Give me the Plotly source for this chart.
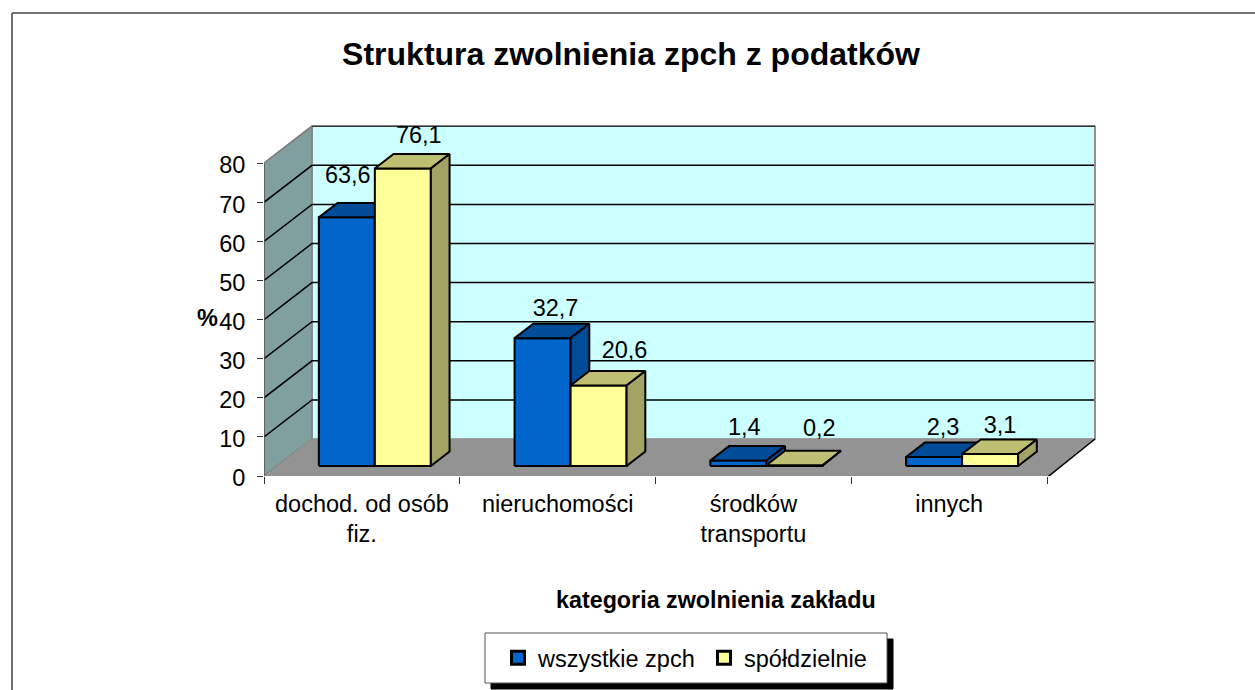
import plotly.graph_objects as go

categories = ["dochod. od osób<br>fiz.", "nieruchomości", "środków<br>transportu", "innych"]
wszystkie = [63.6, 32.7, 1.4, 2.3]
spoldzielnie = [76.1, 20.6, 0.2, 3.1]
label_wszystkie = ["63,6", "32,7", "1,4", "2,3"]
label_spoldzielnie = ["76,1", "20,6", "0,2", "3,1"]
y_ticks = [0, 10, 20, 30, 40, 50, 60, 70, 80]

# page geometry
W, H = 1255, 690
L, R, T, B = 264, 1102, 118, 476
PX_X = 195.75          # px per category
PX_Y = 3.91            # px per percent
DEPTH_X = 48 / PX_X    # projection of full depth, in axis units
DEPTH_Y = 37 / PX_Y
DROP = 1.5 / PX_Y      # front floor edge sits slightly below the zero tick
FONT = "Liberation Sans, Arial, sans-serif"
TXT = 23.5


def proj(x, y, z):
    return x + z * DEPTH_X, y + z * DEPTH_Y


def poly(points):
    xs, ys = [], []
    for x, y, z in points:
        a, b = proj(x, y, z)
        xs.append(a)
        ys.append(b)
    xs.append(xs[0])
    ys.append(ys[0])
    return xs, ys


def area(points, fill, line, width=1.0, name=""):
    xs, ys = poly(points)
    return go.Scatter(x=xs, y=ys, mode="lines", fill="toself", fillcolor=fill,
                      line=dict(color=line, width=width), showlegend=False,
                      hoverinfo="skip", cliponaxis=False, name=name)


def edge(points, color, width):
    xs, ys = [], []
    for p in points:
        a, b = proj(*p)
        xs.append(a)
        ys.append(b)
    return go.Scatter(x=xs, y=ys, mode="lines", line=dict(color=color, width=width),
                      showlegend=False, hoverinfo="skip", cliponaxis=False)


fig = go.Figure()
N = len(categories)
TOP = y_ticks[-1]

# walls and floor
fig.add_trace(area([(0, 0, 1), (N, 0, 1), (N, TOP, 1), (0, TOP, 1)], "#CCFFFF", "#999999", 1.5))
fig.add_trace(area([(0, 0, 0), (0, 0, 1), (0, TOP, 1), (0, TOP, 0)], "#80A0A0", "#808080", 1.5))
fig.add_trace(area([(0, -DROP, 0), (N, -DROP, 0), (N, 0, 1), (0, 0, 1)], "#939393", "#939393", 1))

# gridlines
for v in y_ticks[1:-1]:
    fig.add_trace(edge([(0, v, 0), (0, v, 1), (N, v, 1)], "#000000", 1.5))
fig.add_trace(edge([(N, 0, 1), (N, TOP, 1)], "#909090", 2))
fig.add_trace(edge([(0, TOP, 0), (0, TOP, 1)], "#808080", 1.5))
fig.add_trace(edge([(0, TOP, 1), (N, TOP, 1)], "#333333", 1.5))
fig.add_trace(edge([(0, -DROP, 0), (0, TOP, 0)], "#555555", 1.5))
fig.add_trace(edge([(N, -DROP, 0), (N, 0, 1)], "#000000", 1.5))
fig.add_trace(edge([(0, -DROP, 0), (N, -DROP, 0)], "#000000", 2))

# bars
BAR = 56 / PX_X
Z0, Z1 = 0.27, 0.66


def boxes(values, offset, front, top, side, name):
    for face, color in (("front", front), ("top", top), ("side", side)):
        xs, ys = [], []
        for i, v in enumerate(values):
            a = i + 0.5 + offset * BAR
            b = a + BAR
            if face == "front":
                pts = [(a, 0, Z0), (b, 0, Z0), (b, v, Z0), (a, v, Z0)]
            elif face == "top":
                pts = [(a, v, Z0), (b, v, Z0), (b, v, Z1), (a, v, Z1)]
            else:
                pts = [(b, 0, Z0), (b, 0, Z1), (b, v, Z1), (b, v, Z0)]
            px_, py_ = poly(pts)
            xs += px_ + [None]
            ys += py_ + [None]
        fig.add_trace(go.Scatter(x=xs, y=ys, mode="lines", fill="toself", fillcolor=color,
                                 line=dict(color="#000000", width=2), showlegend=False,
                                 hoverinfo="skip", cliponaxis=False, name=name))


boxes(wszystkie, -1, "#0066CC", "#004C99", "#004C99", "wszystkie zpch")
boxes(spoldzielnie, 0, "#FFFF99", "#BFBF73", "#A3A366", "spółdzielnie")

# value labels: nudges from the bar's front-top centre, in px
nudge_w = [(1, 40), (13, 28), (6, 31), (9, 28)]
nudge_s = [(16, 31), (26, 33), (25, 35), (10, 27)]


def value_labels(values, labels, offset, nudges):
    xs, ys = [], []
    for i, v in enumerate(values):
        a, b = proj(i + 0.5 + (offset + 0.5) * BAR, v, Z0)
        xs.append(a + nudges[i][0] / PX_X)
        ys.append(b + nudges[i][1] / PX_Y)
    fig.add_trace(go.Scatter(x=xs, y=ys, mode="text", text=labels, textposition="middle center",
                             textfont=dict(family=FONT, size=TXT, color="#000000"),
                             showlegend=False, hoverinfo="skip", cliponaxis=False))


value_labels(wszystkie, label_wszystkie, -1, nudge_w)
value_labels(spoldzielnie, label_spoldzielnie, 0, nudge_s)

# legend entries
for name, color in (("wszystkie zpch", "#0066CC"), ("spółdzielnie", "#FFFF99")):
    fig.add_trace(go.Scatter(x=[None], y=[None], mode="markers", name=name,
                             marker=dict(symbol="square", size=13, color=color,
                                         line=dict(color="#000000", width=3))))

pw, ph = R - L, B - T


def px(x):
    return (x - L) / pw


def py(y):
    return (B - y) / ph


def rect(x0, y0, x1, y1, fill, line, width=1):
    return dict(type="rect", xref="paper", yref="paper", x0=px(x0), x1=px(x1), y0=py(y0), y1=py(y1),
                fillcolor=fill, line=dict(color=line, width=width), layer="below")


shapes = [
    dict(type="line", xref="paper", yref="paper", x0=px(12), x1=px(12), y0=py(13), y1=py(H),
         line=dict(color="#707070", width=2)),
    dict(type="line", xref="paper", yref="paper", x0=px(12), x1=px(W), y0=py(13), y1=py(13),
         line=dict(color="#707070", width=2)),
    rect(491, 639, 893, 689, "#000000", "#000000"),
    rect(485, 633, 887, 683, "#FFFFFF", "#555555"),
]

annotations = [
    dict(text="<b>%</b>", xref="paper", yref="paper", x=px(207), y=py(318), showarrow=False,
         font=dict(family=FONT, size=TXT, color="#000000"), xanchor="center", yanchor="middle"),
    dict(text="<b>kategoria zwolnienia zakładu</b>", xref="paper", yref="paper", x=px(716), y=py(600),
         showarrow=False, font=dict(family=FONT, size=23.3, color="#000000"),
         xanchor="center", yanchor="middle"),
]

fig.update_layout(
    width=W, height=H, autosize=False,
    margin=dict(l=L, r=W - R, t=T, b=H - B, pad=0, autoexpand=False),
    paper_bgcolor="#FFFFFF", plot_bgcolor="rgba(0,0,0,0)",
    font=dict(family=FONT, size=TXT, color="#000000"),
    title=dict(text="<b>Struktura zwolnienia zpch z podatków</b>", x=631 / W, xanchor="center",
               y=1 - 54 / H, yanchor="middle", font=dict(family=FONT, size=32, color="#000000")),
    xaxis=dict(range=[0, (R - L) / PX_X], tickmode="array", tickvals=[i + 0.5 for i in range(N)],
               ticktext=categories, ticks="", showgrid=False, zeroline=False, showline=False,
               ticklabelstandoff=11, tickangle=0,
               tickfont=dict(family=FONT, size=TXT, color="#000000"),
               minor=dict(tickmode="array", tickvals=list(range(N + 1)), ticks="outside",
                          ticklen=7, tickwidth=1, tickcolor="#333333", showgrid=False)),
    yaxis=dict(range=[0, (B - T) / PX_Y], tickmode="array", tickvals=y_ticks, ticks="outside",
               ticklen=6, tickwidth=1, tickcolor="#333333", showgrid=False, zeroline=False,
               showline=False, ticklabelstandoff=7, ticklabelshift=2,
               tickfont=dict(family=FONT, size=TXT, color="#000000")),
    legend=dict(orientation="h", x=px(498), xanchor="left", y=py(658), yanchor="middle",
                bgcolor="rgba(0,0,0,0)", borderwidth=0, entrywidth=161, entrywidthmode="pixels",
                font=dict(family=FONT, size=TXT, color="#000000")),
    shapes=shapes, annotations=annotations,
)

fig.write_html("out.html", config={"displayModeBar": False},
               post_script="document.body.style.margin='0';document.body.style.overflow='hidden';")
